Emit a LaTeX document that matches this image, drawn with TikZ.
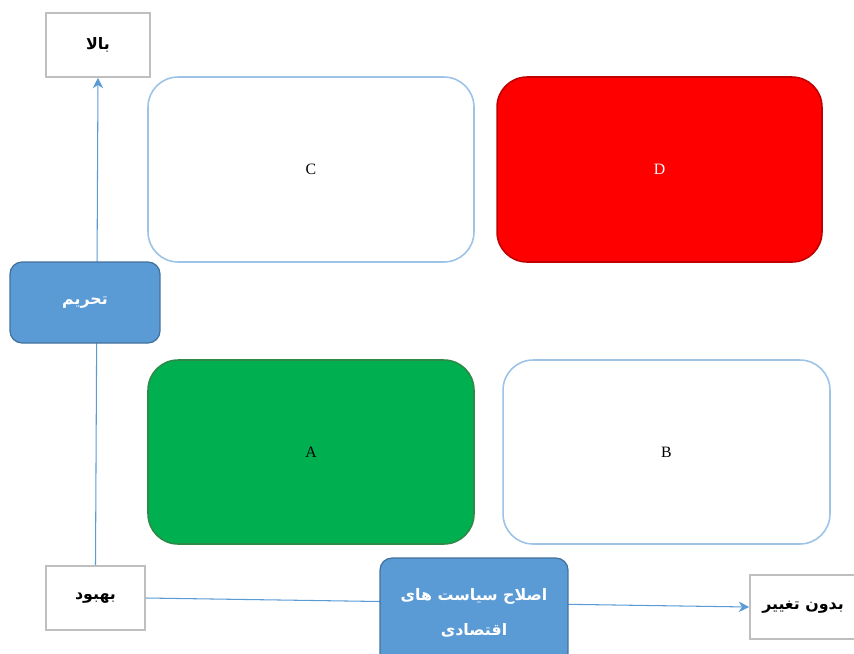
\documentclass[tikz,border=0pt]{standalone}
\usepackage{fontspec}
\setmainfont{Liberation Serif}
\newfontfamily\arabicfont[Script=Arabic]{DejaVu Sans}
\TeXXeTstate=1
\definecolor{AxisBlue}{HTML}{5B9BD5}
\definecolor{BoxBlue}{HTML}{5B9BD5}
\definecolor{BoxBlueEdge}{HTML}{41719C}
\definecolor{PaleEdge}{HTML}{9DC3E6}
\definecolor{PlainEdge}{HTML}{BFBFBF}
\definecolor{QuadRed}{HTML}{FF0000}
\definecolor{QuadRedEdge}{HTML}{C00000}
\definecolor{QuadGreen}{HTML}{00B050}
\definecolor{QuadGreenEdge}{HTML}{2E8B47}
\usetikzlibrary{arrows.meta,backgrounds}
\tikzset{
    % Sharp corners for the axis ends
    endbox/.style={
        rectangle,
        draw=PlainEdge,
        fill=white,
        line width=0.9pt,
        inner sep=0pt,
        minimum width=2.08cm,
        minimum height=1.28cm,
        align=center,
        font=\arabicfont\bfseries\fontsize{9}{11}\selectfont
    },
    drivebox/.style={
        rectangle,
        rounded corners=0.24cm,
        draw=BoxBlueEdge,
        fill=BoxBlue,
        line width=0.7pt,
        inner sep=0pt,
        text=white,
        align=center,
        font=\arabicfont\bfseries\fontsize{9}{20}\selectfont
    },
    quadbox/.style={
        rectangle,
        rounded corners=0.6cm,
        draw=PaleEdge,
        fill=white,
        line width=0.9pt,
        inner sep=0pt,
        minimum width=6.52cm,
        minimum height=3.7cm,
        font=\fontsize{9}{11}\selectfont
    },
    axisarrow/.style={
        -{Stealth[length=6pt,width=6pt]},
        line width=0.6pt,
        color=AxisBlue
    }
}
\begin{document}
\begin{tikzpicture}[x=0.02cm, y=-0.02cm]
    \useasboundingbox (0,0) rectangle (854,653);

    % Quadrants
    \node[quadbox] (quadC) at (311,169.5) {C};
    \node[quadbox, draw=QuadRedEdge, fill=QuadRed, text=white, minimum width=6.5cm] (quadD) at (659.5,169.5) {D};
    \node[quadbox, draw=QuadGreenEdge, fill=QuadGreen, minimum height=3.68cm] (quadA) at (311,452) {A};
    \node[quadbox, minimum width=6.54cm, minimum height=3.68cm] (quadB) at (666.5,452) {B};

    % Axis ends
    \node[endbox] (bala) at (98,45) {\beginR بالا\endR};
    \node[endbox, minimum width=1.98cm] (bahbud) at (95.5,598) {\beginR بهبود\endR};
    \node[endbox, minimum width=2.12cm] (bedun) at (803,607) {\beginR بدون تغییر\endR};

    % Drivers
    \node[drivebox, minimum width=3cm, minimum height=1.62cm] (tahrim) at (85,302.5) {\beginR تحریم\endR};
    \node[drivebox, minimum width=3.76cm, minimum height=2.2cm] (eslah) at (474,613)
        {\beginR اصلاح سیاست های\endR\\ \beginR اقتصادی\endR};

    % Axes (behind the driver boxes)
    \begin{scope}[on background layer]
        \draw[axisarrow] (bahbud.north) -- (bala.south);
        \draw[axisarrow] (bahbud.east) -- (bedun.west);
    \end{scope}
\end{tikzpicture}
\end{document}
